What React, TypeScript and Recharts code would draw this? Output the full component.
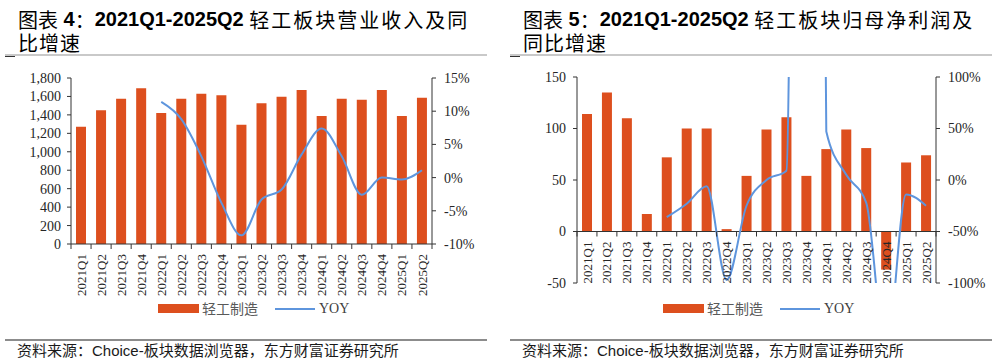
import { Bar, ComposedChart, Line, ReferenceLine, XAxis, YAxis } from 'recharts';

const quarters = [
  '2021Q1', '2021Q2', '2021Q3', '2021Q4',
  '2022Q1', '2022Q2', '2022Q3', '2022Q4',
  '2023Q1', '2023Q2', '2023Q3', '2023Q4',
  '2024Q1', '2024Q2', '2024Q3', '2024Q4',
  '2025Q1', '2025Q2',
];

// 图表4 营业收入（亿元）及同比
const revenue = [1272, 1450, 1576, 1688, 1420, 1576, 1630, 1612, 1293, 1525, 1598, 1670, 1388, 1576, 1565, 1670, 1388, 1587];
const revenueYoy = [null, null, null, null, 11.4, 8.8, 3.2, -3.8, -8.7, -3.3, -1.8, 3.5, 7.4, 3.2, -2.6, 0, -0.3, 1.1];
const revenueTicks = [0, 200, 400, 600, 800, 1000, 1200, 1400, 1600, 1800];
const revenuePctTicks = [-10, -5, 0, 5, 10, 15];

// 图表5 归母净利润（亿元）及同比
const profit = [114, 135, 110, 17, 72, 100, 100, 2.3, 54, 99, 111, 54, 80, 99, 81, -37, 67, 74];
const profitYoy = [null, null, null, null, -36, -23, -6, -97, -25, 0, 9, 2230, 47, 5, -22, -169, -14, -25];
const profitTicks = [-50, 0, 50, 100, 150];
const profitPctTicks = [-100, -50, 0, 50, 100];

const BAR = '#DD4F1E';
const LINE = '#5E95DD';
const AXIS = '#333333';
const SERIF = '"Liberation Serif", "Times New Roman", serif';
const CJK = '"Noto Sans CJK SC", sans-serif';
const SANS = '"Liberation Sans", Arial, sans-serif';

const revenueData = quarters.map((q, i) => ({ q, value: revenue[i], yoy: revenueYoy[i] }));
const profitData = quarters.map((q, i) => ({ q, value: profit[i], yoy: profitYoy[i] }));

const tickStyle = { fontFamily: SERIF, fontSize: 14, fill: '#262626' };

// Excel-style category axis: tick marks between categories, vertical labels
const makeTick = (axisY: number, bandW: number, count: number) => (props: any) => {
  const { x, payload, index } = props;
  return (
    <g>
      <line x1={x - bandW / 2} x2={x - bandW / 2} y1={axisY} y2={axisY + 5} stroke={AXIS} />
      {index === count - 1 && (
        <line x1={x + bandW / 2} x2={x + bandW / 2} y1={axisY} y2={axisY + 5} stroke={AXIS} />
      )}
      <text
        transform={`translate(${x},${axisY + 10}) rotate(-90)`}
        textAnchor="end"
        dy="0.35em"
        fontFamily={SERIF}
        fontSize={13}
        fill="#262626"
      >
        {payload.value}
      </text>
    </g>
  );
};

const ib = { display: 'inline-block', lineHeight: '21px', height: 21, verticalAlign: 'top' } as const;

const Title = ({ left, num, rest1, rest2 }: { left: number; num: string; rest1: string; rest2: string }) => (
  <>
    <div style={{ position: 'absolute', left, top: 9, height: 21, fontSize: 20, lineHeight: '21px', color: '#000', whiteSpace: 'nowrap' }}>
      <span style={{ ...ib, fontFamily: CJK }}>图表</span>
      <span style={{ ...ib, fontFamily: SANS, fontWeight: 'bold', whiteSpace: 'pre' }}> {num}</span>
      <span style={{ ...ib, fontFamily: CJK }}>：</span>
      <span style={{ ...ib, fontFamily: SANS, fontWeight: 'bold', whiteSpace: 'pre' }}>2021Q1-2025Q2 </span>
      <span style={{ ...ib, fontFamily: CJK, letterSpacing: '2px' }}>{rest1}</span>
    </div>
    <div style={{ position: 'absolute', left, top: 32, height: 21, fontSize: 20, lineHeight: '21px', whiteSpace: 'nowrap' }}>
      <span style={{ ...ib, fontFamily: CJK, letterSpacing: '1px' }}>{rest2}</span>
    </div>
  </>
);

const Rules = ({ left }: { left: number }) => (
  <>
    <div style={{ position: 'absolute', left, top: 54, width: 482, height: 2, background: '#C9C9C9' }} />
    <div style={{ position: 'absolute', left, top: 56, width: 10, height: 1, background: '#333' }} />
    <div style={{ position: 'absolute', left, top: 339, width: 482, height: 2, background: '#8C8C8C' }} />
    <div
      style={{
        position: 'absolute', left: left + 12, top: 342, fontSize: 15, lineHeight: '18px',
        fontFamily: `"Liberation Sans", ${CJK}`, color: '#1a1a1a', whiteSpace: 'nowrap',
      }}
    >
      资料来源：Choice-板块数据浏览器，东方财富证券研究所
    </div>
  </>
);

const LegendBox = ({ left }: { left: number }) => (
  <>
    <div style={{ position: 'absolute', left, top: 304, width: 41, height: 9, background: BAR }} />
    <div style={{ position: 'absolute', left: left + 44, top: 299, fontFamily: CJK, fontSize: 14, lineHeight: '19px', color: '#595959' }}>
      轻工制造
    </div>
    <div style={{ position: 'absolute', left: left + 117, top: 308, width: 40, height: 2, background: LINE }} />
    <div style={{ position: 'absolute', left: left + 161, top: 299, fontFamily: SERIF, fontSize: 14, lineHeight: '19px', color: '#404040' }}>
      YOY
    </div>
  </>
);

const App = () => {
  // left panel geometry
  const lTop = 78;
  const lBottom = 244;
  const lBand = (432 - 71) / quarters.length;
  // right panel geometry
  const rTop = 77;
  const rBottom = 283;
  const rBand = (436 - 77) / quarters.length;
  const rZero = rTop + ((rBottom - rTop) * 150) / 200;

  return (
    <div style={{ position: 'absolute', left: 0, top: 0, width: 997, height: 364, background: '#fff' }}>
      <Title left={18} num="4" rest1="轻工板块营业收入及同" rest2="比增速" />
      <Title left={523} num="5" rest1="轻工板块归母净利润及" rest2="同比增速" />
      <Rules left={5} />
      <Rules left={510} />
      <LegendBox left={158} />
      <LegendBox left={663} />

      <div style={{ position: 'absolute', left: 0, top: 0 }}>
        <ComposedChart width={490} height={300} data={revenueData} margin={{ top: lTop, right: 0, bottom: 0, left: 0 }}>
          <XAxis
            dataKey="q"
            height={300 - lBottom}
            interval={0}
            tickLine={false}
            tickSize={0}
            stroke={AXIS}
            tick={makeTick(lBottom, lBand, quarters.length)}
          />
          <YAxis
            yAxisId="left"
            width={71}
            domain={[0, 1800]}
            ticks={revenueTicks}
            interval={0}
            tickSize={4}
            tickMargin={6}
            stroke={AXIS}
            tick={tickStyle}
            tickFormatter={(v: number) => v.toLocaleString('en-US')}
          />
          <YAxis
            yAxisId="right"
            orientation="right"
            width={58}
            domain={[-10, 15]}
            ticks={revenuePctTicks}
            interval={0}
            tickSize={4}
            tickMargin={8}
            stroke={AXIS}
            tick={tickStyle}
            tickFormatter={(v: number) => `${v}%`}
          />
          <Bar yAxisId="left" dataKey="value" fill={BAR} barSize={10} isAnimationActive={false} />
          <Line
            yAxisId="right"
            type="monotone"
            dataKey="yoy"
            stroke={LINE}
            strokeWidth={2}
            dot={false}
            activeDot={false}
            isAnimationActive={false}
          />
        </ComposedChart>
      </div>

      <div style={{ position: 'absolute', left: 500, top: 0 }}>
        <ComposedChart width={497} height={300} data={profitData} margin={{ top: rTop, right: 0, bottom: 300 - rBottom - 1, left: 0 }}>
          <XAxis
            dataKey="q"
            height={1}
            interval={0}
            axisLine={false}
            tickLine={false}
            tickSize={0}
            tick={makeTick(rZero, rBand, quarters.length)}
          />
          <YAxis
            yAxisId="left"
            width={77}
            domain={[-50, 150]}
            ticks={profitTicks}
            interval={0}
            tickSize={4}
            tickMargin={7}
            stroke={AXIS}
            tick={tickStyle}
          />
          <YAxis
            yAxisId="right"
            orientation="right"
            width={61}
            domain={[-100, 100]}
            allowDataOverflow
            ticks={profitPctTicks}
            interval={0}
            tickSize={4}
            tickMargin={8}
            stroke={AXIS}
            tick={tickStyle}
            tickFormatter={(v: number) => `${v}%`}
          />
          <ReferenceLine yAxisId="left" y={0} stroke={AXIS} />
          <Bar yAxisId="left" dataKey="value" fill={BAR} barSize={10} isAnimationActive={false} />
          <Line
            yAxisId="right"
            type="monotone"
            dataKey="yoy"
            stroke={LINE}
            strokeWidth={2}
            dot={false}
            activeDot={false}
            isAnimationActive={false}
          />
        </ComposedChart>
      </div>
    </div>
  );
};

export default App;
